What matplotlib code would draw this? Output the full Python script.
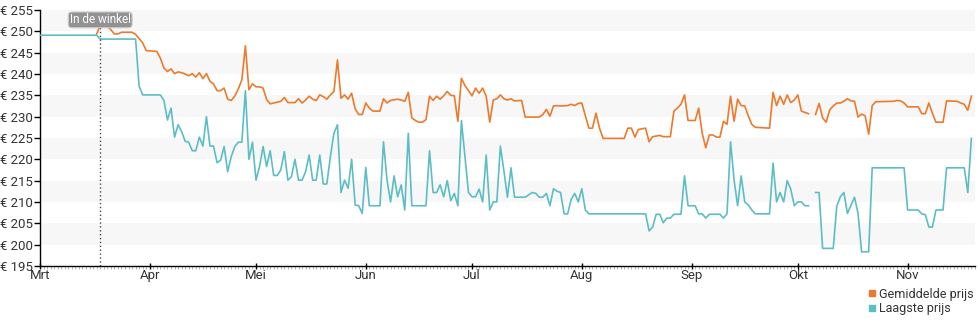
import numpy as np
import pandas as pd
import matplotlib
matplotlib.use("Agg")
import matplotlib.pyplot as plt
from matplotlib.lines import Line2D
from matplotlib.ticker import MultipleLocator

plt.rcParams['font.family'] = ['Roboto', 'DejaVu Sans']

# dagen sinds 1 maart, prijzen in euro
avg_days = [16, 17, 19, 20, 21, 22, 23, 26, 27, 29, 30, 33, 34, 35,
            36, 37, 38, 39, 40, 41, 42, 43, 44, 45, 46, 47, 48, 49, 50, 51, 52, 53, 54, 55,
            56, 57, 58, 59, 60, 61, 62, 63, 64, 65, 68,
            69, 70, 72, 73, 74, 75, 76, 77, 78, 79, 80, 81, 82, 83, 84, 85, 86, 87, 88, 89,
            90, 91, 92, 93, 94, 96, 97, 98, 99, 101,
            102, 103, 104, 105, 106, 107, 108, 109, 110, 111, 112, 113, 114, 115, 116, 117,
            118, 119, 120, 121, 122, 123, 124, 125, 126, 127, 128, 129, 130, 131, 132, 133,
            134, 136, 137,
            139, 141, 142, 143, 144, 145, 146, 147, 149, 150, 151, 152, 153, 154, 155, 156,
            157, 158, 159, 165, 166, 167, 168, 169, 171,
            172, 173, 175, 176, 178, 179, 180, 181, 182, 183, 185, 186, 187, 188, 189, 190,
            191, 192, 193, 194, 195, 196, 197, 198, 199, 200, 201, 202, 206,
            207, 208, 209, 210, 211, 212, 213, 214, 215, 216, 217, 218,
            219, 220, 221, 222, 223, 224, 225, 226, 227, 228, 229, 230, 231, 232, 233, 234,
            235, 236, 241, 242, 243, 244, 245, 248, 249, 250, 251, 252, 253, 255, 256, 259,
            260, 261, 262, 263]
avg_price = [249.4, 251.3, 251.2, 250.4, 249.4, 249.4, 249.8, 249.8, 249.3, 247.3, 245.5, 245.3, 243.7, 241.4,
             240.6, 241.2, 240.1, 240.5, 240.3, 240.0, 239.6, 240.1, 239.3, 240.3, 238.9, 240.1, 238.3, 237.7,
             236.1, 236.1, 236.7, 234.1, 233.8, 234.8,
             236.5, 238.6, 246.6, 236.3, 237.7, 237.0, 237.0, 236.7, 234.0, 233.0, 233.6,
             234.5, 233.3, 233.3, 234.2, 233.2, 233.9, 234.8, 234.1, 233.8, 235.1, 234.7, 234.1, 235.1, 235.9,
             243.3, 234.3, 235.1, 234.1, 235.5, 231.8,
             230.5, 230.5, 233.2, 232.0, 231.3, 231.3, 234.2, 233.2, 233.8, 234.1,
             233.9, 233.6, 235.7, 229.7, 229.1, 228.7, 228.7, 229.3, 234.8, 233.8, 234.8, 234.1, 234.9, 235.9,
             235.0, 234.9,
             228.9, 239.0, 237.3, 236.1, 234.9, 236.7, 235.5, 236.7, 234.8, 228.7, 233.9, 234.2, 235.1, 234.2,
             233.9, 234.2,
             233.7, 233.8, 229.9,
             229.9, 229.9, 230.5, 231.7, 230.1, 232.5, 232.6, 232.5, 232.6, 232.9, 232.6, 233.1, 233.2, 230.2,
             227.3, 227.3,
             230.8, 227.3, 224.9, 224.9, 227.3, 227.3, 225.2, 227.0, 227.3,
             224.1, 225.3, 225.6, 225.3, 225.3, 231.3, 232.0, 232.9, 235.1, 229.1, 229.1, 232.0, 226.1, 222.7,
             225.7, 225.7,
             225.2, 225.2, 228.9, 228.2, 234.8, 228.9, 234.1, 232.6, 232.5, 230.2, 228.2, 227.5, 227.3,
             235.7, 232.6, 234.8, 232.9, 235.1, 233.3, 233.9, 235.1, 231.3, 231.0, 230.7, np.nan,
             230.5, 233.1, 229.7, 228.7, 231.6, 232.5, 233.2, 233.2, 233.6, 234.2, 233.7, 233.6, 229.9, 230.6,
             230.2, 225.9,
             232.6, 233.5, 233.6, 233.8, 233.7, 233.2, 232.3, 232.3, 230.7, 230.7, 233.2, 230.8, 228.7, 228.7,
             233.7, 233.6,
             233.2, 232.9, 231.5, 234.8]

low_days = [0, 16, 17, 27, 28, 29, 34, 35, 36, 37, 38, 39, 40, 41, 42, 43, 44, 45, 46, 47, 48, 49,
            50, 51, 52, 53, 54, 55, 56, 57, 58, 59, 60, 61, 62, 63, 64, 65, 66, 67, 68,
            69, 70, 71, 72, 73, 74, 75, 76, 77, 78, 79, 80, 81, 82, 83, 84, 85, 86, 87, 88, 89,
            90, 91, 92, 93, 96, 97, 98, 99, 100, 101, 102, 103, 104, 105, 109, 110, 111, 112,
            113, 114, 115, 116, 117, 118, 119, 121, 122, 123, 124, 125, 126, 127, 128, 129,
            130, 131, 132, 133, 134, 137,
            139, 140, 141, 142, 143, 144, 145, 146, 147, 148, 149, 150, 151, 152, 153, 154,
            155, 171,
            172, 173, 174, 175, 176, 177, 178, 179, 181, 182, 183, 185, 186, 187, 188, 189,
            192, 193, 194, 195, 196, 197, 198, 199, 200, 201, 202, 206,
            207, 208, 209, 210, 211, 212, 213, 214, 215, 216, 217, 218,
            219, 220, 221, 224, 225, 226, 227, 228, 230, 231, 232, 234, 235, 244, 245, 248,
            249, 250, 251, 252, 253, 255, 256, 261, 262, 263]
low_price = [249.1, 249.1, 248.2, 248.2, 237.1, 235.1, 235.1, 233.8, 229.2, 232.0, 225.2, 228.1, 226.5,
             224.2, 224.0, 222.0, 222.0, 225.2, 223.1, 230.0, 223.1, 223.1,
             219.2, 219.8, 223.0, 217.1, 220.6, 223.0, 224.0, 224.0, 236.1, 220.0, 224.0, 215.1, 218.3,
             223.0, 218.3, 222.0, 216.2, 216.2, 217.5,
             221.8, 215.1, 215.9, 220.0, 215.1, 215.1, 217.1, 221.0, 215.1, 215.1, 221.0, 214.2, 214.2,
             220.6, 226.1, 228.1, 212.2, 215.1, 213.2, 220.0, 209.3,
             209.1, 207.3, 218.1, 209.1, 209.1, 224.1, 215.1, 210.0, 216.1, 211.2, 214.0, 208.1, 226.1,
             209.1, 209.1, 222.0, 212.2, 212.2,
             214.0, 211.2, 215.0, 210.3, 212.0, 209.1, 229.1, 212.2, 211.2, 211.2, 213.0, 210.0, 221.0,
             208.1, 210.0, 210.0,
             223.1, 217.3, 211.1, 218.0, 211.1, 211.1,
             212.2, 212.0, 211.1, 211.1, 212.0, 209.1, 213.1, 212.5, 212.2, 207.2, 207.2, 210.6, 212.0,
             210.0, 213.1, 208.1,
             207.2, 207.2,
             203.2, 204.1, 207.1, 207.1, 205.1, 206.2, 206.2, 207.1, 207.1, 216.1, 209.1, 209.1, 207.2,
             207.2, 206.2, 207.1,
             207.1, 206.2, 207.2, 224.1, 215.1, 209.1, 216.1, 210.0, 209.3, 208.1, 207.2, 207.2,
             219.1, 210.0, 212.2, 210.0, 215.0, 213.0, 209.1, 210.0, 210.0, 209.1, 209.1, np.nan,
             212.2, 212.2, 199.1, 199.1, 209.0, 211.2, 212.2, 207.3, 211.1, 207.3, 198.3, 198.3, 218.0,
             218.0, 208.1, 208.1,
             207.2, 207.0, 204.1, 204.1, 208.1, 208.1, 218.0, 218.0, 212.2, 224.9]

store_day = 17  # "In de winkel"
month_names = ['Mrt', 'Apr', 'Mei', 'Jun', 'Jul', 'Aug', 'Sep', 'Okt', 'Nov']
y_ticks = [195, 200, 205, 210, 215, 220, 225, 230, 235, 240, 245, 250, 255]

months = pd.date_range('2015-03-01', periods=len(month_names), freq='MS')
month_days = (months - months[0]).days

orange = '#ec7a2c'
teal = '#5dbdc5'

fig = plt.figure(figsize=(9.8, 3.25), dpi=100)
ax = fig.add_axes([0.0408, 0.182, 0.954, 0.787])

# grijze banden
for lo in y_ticks[1::2]:
    ax.axhspan(lo, lo + 5, color='#f7f7f7', zorder=0, lw=0)

ax.plot(avg_days, avg_price, color=orange, lw=1.2, zorder=3)
ax.plot(low_days, low_price, color=teal, lw=1.2, zorder=3)

ax.axvline(store_day, color='#444444', lw=1, linestyle=(0, (1, 1.8)), zorder=4)
ax.text(store_day, 252.7, 'In de winkel', ha='center', va='center', fontsize=8.5, color='white',
        zorder=5, bbox=dict(boxstyle='round,pad=0.12,rounding_size=0.3', fc='#929292', ec='#d0d0d0', lw=0.8))

ax.set_xlim(0, 264)
ax.set_ylim(195, 255)
ax.set_yticks(y_ticks)
ax.set_yticklabels([f'€ {v}' for v in y_ticks])
ax.set_xticks(month_days)
ax.set_xticklabels(month_names)
ax.xaxis.set_minor_locator(MultipleLocator(1))

ax.tick_params(axis='y', length=4, width=1, color='black', labelsize=9.5, labelcolor='#333333', pad=1)
ax.tick_params(axis='x', which='major', length=4, width=1, color='black', direction='inout',
               labelsize=9.5, labelcolor='#333333', pad=0)
ax.tick_params(axis='x', which='minor', length=2, width=0.6, color='#aaaaaa', direction='out')

for side in ['top', 'right']:
    ax.spines[side].set_visible(False)
for side in ['left', 'bottom']:
    ax.spines[side].set_color('black')
    ax.spines[side].set_linewidth(1)

handles = [Line2D([], [], marker='s', color=orange, linestyle='none', markersize=5),
           Line2D([], [], marker='s', color=teal, linestyle='none', markersize=5)]
fig.legend(handles, ['Gemiddelde prijs', 'Laagste prijs'], loc='upper right',
           bbox_to_anchor=(0.993, 0.115), frameon=False, fontsize=9, labelcolor='#333333',
           handlelength=0.6, handletextpad=0.2, labelspacing=0.1, borderpad=0, borderaxespad=0)

fig.savefig('out.png', dpi=100)
